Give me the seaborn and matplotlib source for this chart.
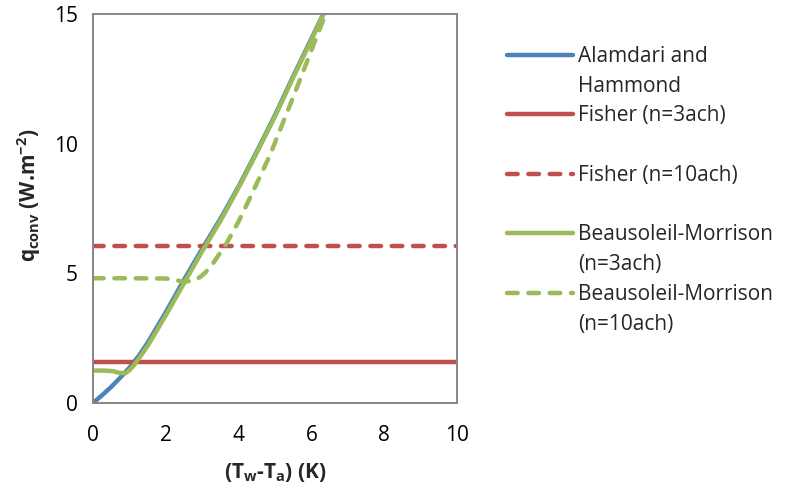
import matplotlib
matplotlib.use("Agg")
import matplotlib.pyplot as plt
from matplotlib.lines import Line2D
from matplotlib.ticker import MultipleLocator
import seaborn as sns
import pandas as pd

# Temperature difference (K) and convective heat flux (W/m2) per model
dT_ah = [0, 0.25, 0.5, 0.75, 1.0, 1.25, 1.5, 2.0, 2.5, 3.0, 3.5, 4.0, 4.5, 5.0, 5.5, 6.0, 6.5]
q_ah = [0, 0.3, 0.62, 0.98, 1.36, 1.8, 2.32, 3.5, 4.75, 5.95, 7.1, 8.35, 9.7, 11.1, 12.6, 14.05, 15.5]

dT_fisher = [0, 10]
q_fisher3 = [1.58, 1.58]
q_fisher10 = [6.05, 6.05]

dT_bm3 = [0, 0.3, 0.55, 0.7, 0.88, 1.0, 1.15, 1.5, 2.0, 2.5, 3.0, 3.5, 4.0, 4.5, 5.0, 5.5, 6.0, 6.5]
q_bm3 = [1.25, 1.25, 1.23, 1.17, 1.14, 1.26, 1.5, 2.2, 3.38, 4.62, 5.85, 7.02, 8.3, 9.65, 11.05, 12.55, 14.0, 15.5]

dT_bm10 = [0, 1.0, 2.0, 2.2, 2.48, 2.7, 2.94, 3.1, 3.3, 3.67, 4.0, 4.31, 4.86, 5.5, 6.0, 6.5]
q_bm10 = [4.81, 4.81, 4.8, 4.76, 4.68, 4.7, 4.85, 5.05, 5.39, 6.16, 7.0, 7.9, 9.55, 11.8, 13.6, 15.4]

labels = ["Alamdari and\nHammond", "Fisher (n=3ach)", "Fisher (n=10ach)",
          "Beausoleil-Morrison\n(n=3ach)", "Beausoleil-Morrison\n(n=10ach)"]

BLUE, RED, GREEN = "#4F81BD", "#C0504D", "#9BBB59"

sns.set_style("white")
FONT = "Open Sans"
plt.rcParams["font.family"] = [FONT, "DejaVu Sans"]
plt.rcParams["mathtext.fontset"] = "custom"
plt.rcParams["mathtext.rm"] = FONT
plt.rcParams["mathtext.it"] = FONT + ":italic"
plt.rcParams["mathtext.bf"] = FONT + ":bold"

FS = 15

fig = plt.figure(figsize=(7.87, 4.91), dpi=100)
ax = fig.add_axes([93 / 787, 88 / 491, 364 / 787, 389 / 491])

LW = 3.2
DASH = (2.4, 2.4)

series = [
    (dT_ah, q_ah, BLUE, None),
    (dT_fisher, q_fisher3, RED, None),
    (dT_fisher, q_fisher10, RED, DASH),
    (dT_bm3, q_bm3, GREEN, None),
    (dT_bm10, q_bm10, GREEN, DASH),
]

handles = []
for (x, y, color, dash), lab in zip(series, labels):
    df = pd.DataFrame({"dT": x, "q": y})
    sns.lineplot(data=df, x="dT", y="q", ax=ax, color=color, linewidth=LW,
                 estimator=None, legend=False)
    line = ax.get_lines()[-1]
    line.set_solid_capstyle("round")
    line.set_solid_joinstyle("round")
    if dash is not None:
        line.set_dashes(dash)
        line.set_dash_capstyle("round")
    handles.append(line)

ax.set_xlim(0, 10)
ax.set_ylim(0, 15)
ax.xaxis.set_major_locator(MultipleLocator(2))
ax.xaxis.set_minor_locator(MultipleLocator(1))
ax.yaxis.set_major_locator(MultipleLocator(5))

SPINE = "#868686"
for s in ax.spines.values():
    s.set_color(SPINE)
    s.set_linewidth(1.4)
    s.set_visible(True)

ax.tick_params(axis="both", which="both", direction="in", color=SPINE,
               width=1.4, length=3.8, labelsize=FS, labelcolor="black")
ax.tick_params(axis="x", which="major", pad=16)
ax.tick_params(axis="y", which="major", pad=11)

ax.set_xlabel(r"$\mathbf{(T_w}$-$\mathbf{T_a)}$ (K)", fontsize=FS, fontweight="bold")
ax.set_ylabel(r"$\mathbf{q_{conv}}$ (W.m$\mathbf{^{-2}}$)", fontsize=FS, fontweight="bold")
ax.xaxis.set_label_coords(0.5, -0.148)
ax.yaxis.set_label_coords(-0.137, 0.535)

# Legend rows: one handle per entry, blank handles for wrapped/empty rows
blank = Line2D([], [], color="none")
leg_handles = [handles[0], blank, handles[1], blank, handles[2], blank,
               handles[3], blank, handles[4], blank]
leg_labels = ["Alamdari and", "Hammond", "Fisher (n=3ach)", " ", "Fisher (n=10ach)", " ",
              "Beausoleil-Morrison", "(n=3ach)", "Beausoleil-Morrison", "(n=10ach)"]
fig.legend(leg_handles, leg_labels, loc="upper left",
           bbox_to_anchor=(507 / 787, 1 - 46 / 491), frameon=False,
           fontsize=FS, handlelength=3.15, handletextpad=0.28,
           labelspacing=0.42, borderpad=0, borderaxespad=0)

fig.savefig("out.png", dpi=100)
